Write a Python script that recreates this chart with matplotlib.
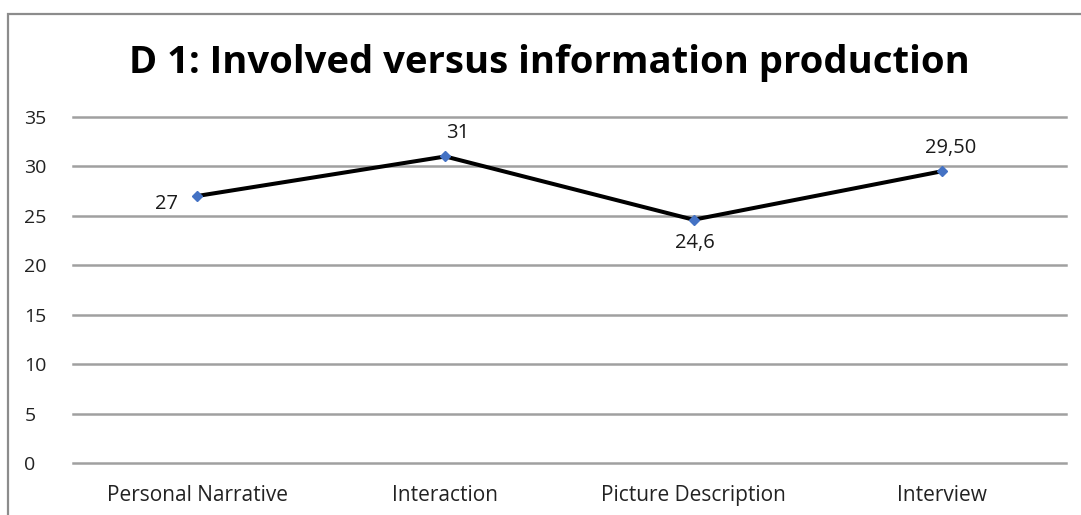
import matplotlib.pyplot as plt
from matplotlib.patches import Rectangle

categories = ['Personal Narrative', 'Interaction', 'Picture Description', 'Interview']
values = [27, 31, 24.6, 29.5]
value_labels = ['27', '31', '24,6', '29,50']
yticks = [0, 5, 10, 15, 20, 25, 30, 35]

plt.rcParams['font.family'] = ['Open Sans', 'DejaVu Sans']

fig = plt.figure(figsize=(10.81, 5.15), dpi=100)
ax = fig.add_axes([0.0675, 0.101, 0.9185, 0.672])

# grey chart frame (right and bottom edges fall outside the image)
fig.patches.append(Rectangle((8 / 1081, -0.2), 1.2, 1.2 - 14 / 515,
                             transform=fig.transFigure, fill=False,
                             edgecolor='#8c8c8c', linewidth=1.6))

x = list(range(len(categories)))
ax.plot(x, values, color='black', linewidth=2.9, zorder=3)
ax.plot(x, values, linestyle='none', marker='D', markersize=5.5,
        color='#4472C4', zorder=4)

# value labels: left, above, below, above
offsets = [(-22, -6), (9, 17), (1, -17), (6.5, 17)]
for xi, v, lab, off in zip(x, values, value_labels, offsets):
    ax.annotate(lab, (xi, v), xytext=off, textcoords='offset points',
                ha='center', va='center', fontsize=14.5, color='#1a1a1a')

ax.set_xlim(-0.5, len(categories) - 0.5)
ax.set_ylim(0, 35)
ax.set_yticks(yticks)
ax.set_xticks(x)
ax.set_xticklabels(categories)
ax.tick_params(axis='both', length=0, labelsize=14, colors='#222222')
ax.tick_params(axis='x', pad=16, labelsize=15)
ax.tick_params(axis='y', pad=35)
for lab in ax.get_yticklabels():
    lab.set_horizontalalignment('left')

ax.grid(axis='y', color='#a0a0a0', linewidth=1.8)
for gl in ax.get_ygridlines():
    gl.set_clip_on(False)
ax.set_axisbelow(True)
for s in ax.spines.values():
    s.set_visible(False)

fig.text(0.508, 0.877, 'D 1: Involved versus information production',
         ha='center', va='center', fontsize=27.5, fontweight='bold', color='black')

fig.savefig('out.png', dpi=100)
